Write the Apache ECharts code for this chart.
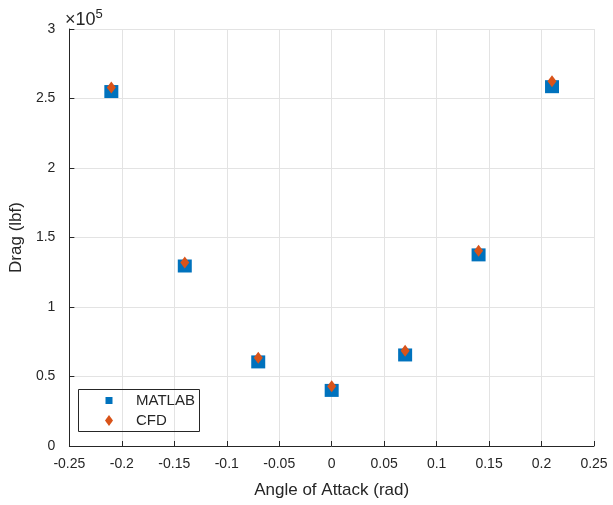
<!DOCTYPE html>
<html>
<head>
<meta charset="utf-8">
<script src="https://cdn.jsdelivr.net/npm/echarts@6/dist/echarts.min.js"></script>
<style>
  html, body { margin: 0; padding: 0; background: #fff; }
  #chart { width: 613px; height: 505px; }
</style>
</head>
<body>
<div id="chart"></div>
<script>
// Angle of attack (rad) for each test case
const angleOfAttack = [-0.21, -0.14, -0.07, 0, 0.07, 0.14, 0.21];
// Drag (lbf) from the MATLAB model and from CFD
const dragMatlab = [255000, 129500, 60500, 40000, 65500, 137500, 258500];
const dragCfd    = [258000, 132000, 63500, 43000, 68500, 140500, 262500];
// Axis ticks
const xTicks = [-0.25, -0.2, -0.15, -0.1, -0.05, 0, 0.05, 0.1, 0.15, 0.2, 0.25];
const yTicks = [0, 0.5, 1, 1.5, 2, 2.5, 3];
const yScale = 1e5;

const FONT = "'Liberation Sans', Arial, Helvetica, sans-serif";
const INK = '#262626';
const GRID = '#e3e3e3';

const chart = echarts.init(document.getElementById('chart'), null, { renderer: 'canvas' });

const fmt = v => String(parseFloat(v.toFixed(4)));

// Legend icons: padded paths so the glyph sits centred in a 44x11 box
const legendSquare  = 'path://M0,0 M44,11 M18.5,2 L25.5,2 L25.5,9 L18.5,9 Z';
const legendDiamond = 'path://M0,0 M44,11 M22,0 L26,5.5 L22,11 L18,5.5 Z';

chart.setOption({
  animation: false,
  backgroundColor: '#fff',
  textStyle: { fontFamily: FONT },
  grid: { left: 66, right: 19, top: 29, bottom: 59, containLabel: false },
  xAxis: {
    type: 'value',
    min: xTicks[0],
    max: xTicks[xTicks.length - 1],
    interval: 0.05,
    name: 'Angle of Attack (rad)',
    nameLocation: 'middle',
    nameGap: 36,
    nameTextStyle: { fontSize: 17, color: INK, fontFamily: FONT },
    axisLine: { show: true, onZero: false, lineStyle: { color: INK, width: 1 } },
    axisTick: { show: true, inside: true, length: 5, lineStyle: { color: INK } },
    axisLabel: { margin: 11, fontSize: 14, color: INK, fontFamily: FONT, formatter: fmt },
    splitLine: { show: true, lineStyle: { color: GRID, width: 1 } }
  },
  yAxis: {
    type: 'value',
    min: yTicks[0] * yScale,
    max: yTicks[yTicks.length - 1] * yScale,
    interval: 0.5 * yScale,
    name: 'Drag (lbf)',
    nameLocation: 'middle',
    nameGap: 37,
    nameTextStyle: { fontSize: 17, color: INK, fontFamily: FONT },
    axisLine: { show: true, onZero: false, lineStyle: { color: INK, width: 1 } },
    axisTick: { show: true, inside: true, length: 5, lineStyle: { color: INK } },
    axisLabel: { margin: 14, fontSize: 14, color: INK, fontFamily: FONT,
                 formatter: v => fmt(v / yScale) },
    splitLine: { show: true, lineStyle: { color: GRID, width: 1 } }
  },
  legend: {
    data: [
      { name: 'MATLAB', icon: legendSquare },
      { name: 'CFD', icon: legendDiamond }
    ],
    orient: 'vertical',
    left: 87, top: 393, padding: 0, itemGap: 5,
    itemWidth: 44, itemHeight: 11, symbolKeepAspect: false,
    textStyle: { fontSize: 15, color: INK, fontFamily: FONT }
  },
  graphic: [
    {
      type: 'rect',
      shape: { x: 78.5, y: 389.5, width: 121, height: 42 },
      style: { fill: 'none', stroke: INK, lineWidth: 1 },
      z: 100
    },
    {
      type: 'text',
      left: 65, top: 8,
      style: {
        text: '{a|×10}{b|5}',
        rich: {
          a: { fontSize: 18, fill: INK, fontFamily: FONT, verticalAlign: 'bottom' },
          b: { fontSize: 13, fill: INK, fontFamily: FONT, verticalAlign: 'top', padding: [0, 0, 8, 0] }
        }
      }
    }
  ],
  series: [
    {
      name: 'MATLAB',
      type: 'scatter',
      symbol: 'rect',
      symbolSize: [14, 13],
      itemStyle: { color: '#0072BD', opacity: 1 },
      data: angleOfAttack.map((a, i) => [a, dragMatlab[i]]),
      z: 2
    },
    {
      name: 'CFD',
      type: 'scatter',
      symbol: 'diamond',
      symbolSize: [9, 12],
      itemStyle: { color: '#D95319', opacity: 1 },
      data: angleOfAttack.map((a, i) => [a, dragCfd[i]]),
      z: 3
    }
  ]
});
</script>
</body>
</html>
